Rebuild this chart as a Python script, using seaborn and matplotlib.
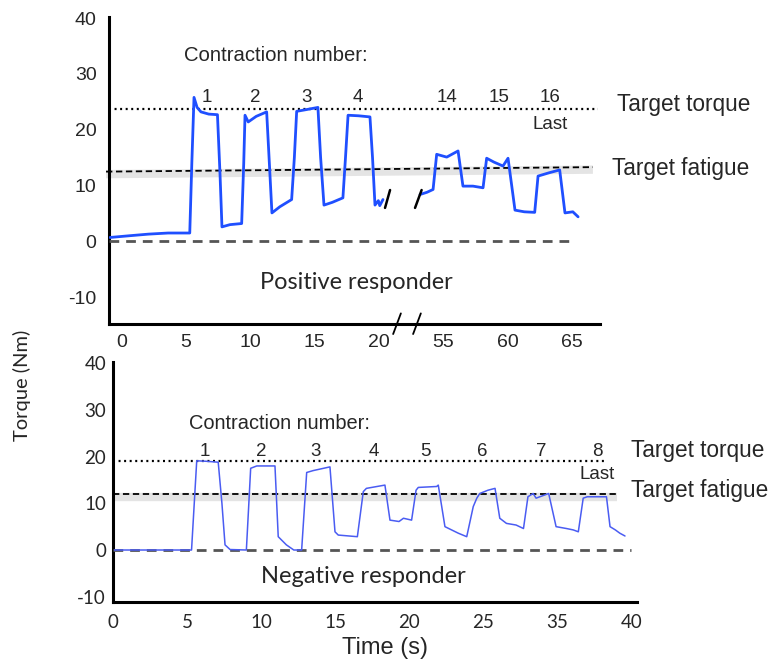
import matplotlib
matplotlib.use("Agg")
import matplotlib.pyplot as plt
import numpy as np
import pandas as pd
import seaborn as sns

# ---------------- data ----------------
# Positive responder (top): time in seconds, torque in Nm
pos_seg1_t = [-0.9, 0.56, 2.09, 3.62, 5.30, 5.46, 5.63, 5.87, 6.17, 6.78, 7.45, 7.65, 7.80,
              8.42, 9.33, 9.49, 9.59, 9.84, 10.46, 11.27, 11.48, 11.68, 12.29, 13.21, 13.42,
              13.60, 14.33, 15.25, 15.46, 15.72, 16.37, 17.19, 17.39, 17.59, 18.41, 19.29,
              19.49, 19.68, 19.94, 20.05, 20.30]
pos_seg1_y = [0.7, 1.0, 1.3, 1.5, 1.5, 14.0, 25.8, 24.0, 23.2, 22.8, 22.7, 12.0, 2.6,
              3.0, 3.2, 14.0, 22.6, 21.4, 22.4, 23.2, 14.0, 5.1, 6.2, 7.5, 15.0,
              23.3, 23.6, 24.0, 15.0, 6.5, 7.0, 7.8, 15.0, 22.6, 22.5, 22.3,
              15.0, 6.5, 7.3, 6.4, 7.5]
pos_seg2_t = [53.18, 53.72, 54.19, 54.47, 55.25, 56.13, 56.51, 57.29, 58.07, 58.35, 58.92,
              59.62, 60.01, 60.55, 61.27, 62.08, 62.34, 63.21, 64.02, 64.43, 65.04, 65.45]
pos_seg2_y = [8.4, 8.8, 9.3, 15.6, 15.1, 16.2, 9.9, 9.9, 9.6, 14.9, 14.2,
              13.5, 14.9, 5.6, 5.3, 5.2, 11.7, 12.3, 12.8, 5.1, 5.3, 4.4]

# Negative responder (bottom)
neg_t = [0.1, 5.3, 5.65, 6.3, 7.1, 7.35, 7.56, 7.9, 9.0, 9.15, 9.29, 9.7, 10.93, 11.15, 11.7,
         12.2, 12.73, 13.07, 13.5, 14.64, 14.98, 15.2, 16.49, 16.89, 17.1, 18.35, 18.69, 19.3,
         19.6, 20.15, 20.45, 20.6, 21.84, 21.95, 22.4, 22.85, 23.3, 23.87, 24.31, 24.55, 24.75,
         25.3, 25.78, 26.1, 26.55, 27.2, 27.7, 28.0, 28.35, 28.55, 29.4, 29.9, 30.6, 31.06,
         31.4, 31.73, 32.0, 33.3, 33.54, 33.9, 34.2, 34.55]
neg_y = [0.0, 0.0, 19.1, 19.0, 18.8, 10.0, 1.1, 0.1, 0.0, 9.0, 17.5, 18.0, 18.0, 2.85, 1.1,
         0.0, 0.0, 16.6, 17.0, 17.8, 3.9, 3.2, 2.85, 12.5, 13.2, 13.9, 6.4, 6.1,
         6.8, 6.4, 12.8, 13.4, 13.6, 13.9, 5.0, 4.3, 3.6, 2.85, 9.3, 11.1, 12.1,
         12.8, 13.2, 6.8, 5.7, 5.35, 4.6, 11.4, 12.1, 11.1, 12.1, 5.0, 4.6, 4.3,
         3.9, 11.1, 11.4, 11.4, 5.0, 4.3, 3.6, 3.0]

top_ticks_t = [0, 5, 10, 15, 20, 55, 60, 65]
top_tick_labels = ["0", "5", "10", "15", "20", "55", "60", "65"]
bottom_ticks = [0, 5, 10, 15, 20, 25, 30, 35]
bottom_tick_labels = ["0", "5", "10", "15", "20", "25", "35", "40"]
y_ticks = [-10, 0, 10, 20, 30, 40]

pos_contraction_labels = ["1", "2", "3", "4", "14", "15", "16"]
pos_contraction_t = [6.61, 10.35, 14.33, 18.31, 55.25, 59.33, 63.31]
neg_contraction_labels = ["1", "2", "3", "4", "5", "6", "7", "8"]
neg_contraction_t = [6.2, 10.0, 13.7, 17.6, 21.1, 24.9, 28.9, 32.7]

pos_target_torque = 23.8
pos_target_fatigue = [12.5, 13.3]
neg_target_torque = 19.1
neg_target_fatigue = 11.9

BREAK_SHIFT = 30  # seconds removed by the broken axis (20 s -> 55 s)


def axis_x(t):
    t = np.asarray(t, dtype=float)
    return np.where(t > 40, t - BREAK_SHIFT, t)


# ---------------- figure ----------------
sns.set_style("white")
plt.rcParams['font.family'] = ['Liberation Sans', 'DejaVu Sans']
plt.rcParams['axes.unicode_minus'] = False
CAL = ["Lato", "DejaVu Sans"]

fig = plt.figure(figsize=(7.71, 6.60), dpi=100)
ax1 = fig.add_axes([109 / 771, 1 - 324 / 660, 491 / 771, 307 / 660])
ax2 = fig.add_axes([113 / 771, 1 - 601.7 / 660, 524 / 771, 239.7 / 660])

TOP_BLUE = "#1f4fff"
BOT_BLUE = "#4a5cf2"

# ---- top panel ----
df1 = pd.DataFrame({"x": axis_x(pos_seg1_t), "torque": pos_seg1_y})
df2 = pd.DataFrame({"x": axis_x(pos_seg2_t), "torque": pos_seg2_y})
sns.lineplot(data=df1, x="x", y="torque", ax=ax1, color=TOP_BLUE, lw=2.0,
             estimator=None, sort=False, zorder=4)
sns.lineplot(data=df2, x="x", y="torque", ax=ax1, color=TOP_BLUE, lw=2.0,
             estimator=None, sort=False, zorder=4)

ax1.set_xlim(-0.97, 37.15)
ax1.set_ylim(-14.8, 40.2)
# reference lines
ax1.plot([-0.97, 37.0], [pos_target_torque] * 2, color="black", lw=1.6,
         ls=(0, (0.9, 1.6)), zorder=3)
ax1.plot([-1.2, 36.6], [pos_target_fatigue[0] - 0.45, pos_target_fatigue[1] - 0.45],
         color="#cfcfcf", lw=6, alpha=0.55, solid_capstyle="butt", zorder=2, clip_on=False)
ax1.plot([-1.2, 36.6], pos_target_fatigue, color="black", lw=1.3,
         ls=(0, (3.5, 2.0)), zorder=3, clip_on=False)
ax1.plot([-0.97, 35.2], [0, 0], color="#555555", lw=2.0, ls=(0, (3.5, 2.5)), zorder=3)

# break marks on the trace
for x0, x1 in [(20.46, 20.85), (22.79, 23.3)]:
    ax1.plot([x0, x1], [6.0, 9.2], color="black", lw=1.8, zorder=5)
# break marks on the axis
for xc in [21.39, 22.94]:
    ax1.plot([xc - 0.3, xc + 0.3], [-16.6, -12.9], color="black", lw=1.3,
             clip_on=False, zorder=6)

ax1.text(12.0, 33.3, "Contraction number:", fontsize=14.6, ha="center", va="center")
for lab, t in zip(pos_contraction_labels, pos_contraction_t):
    ax1.text(float(axis_x(t)), 25.7, lab, fontsize=13.5, ha="center", va="center")
ax1.text(33.31, 20.9, "Last", fontsize=13.5, ha="center", va="center")
ax1.text(38.47, 24.6, "Target torque", fontsize=16.3, ha="left", va="center", clip_on=False)
ax1.text(38.08, 13.0, "Target fatigue", fontsize=16.3, ha="left", va="center", clip_on=False)
ax1.text(18.2, -7.4, "Positive responder", fontsize=16.9, ha="center", va="center",
         family=CAL)

ax1.set_xticks(axis_x(top_ticks_t))
ax1.set_xticklabels(top_tick_labels)
ax1.set_yticks(y_ticks)
ax1.set_xlabel("")
ax1.set_ylabel("")

# ---- bottom panel ----
df3 = pd.DataFrame({"x": neg_t, "torque": neg_y})
sns.lineplot(data=df3, x="x", y="torque", ax=ax2, color=BOT_BLUE, lw=1.1,
             estimator=None, sort=False, zorder=4)
ax2.set_xlim(0, 35.36)
ax2.set_ylim(-11.07, 40.26)
ax2.plot([0, 33.2], [neg_target_torque] * 2, color="black", lw=1.6,
         ls=(0, (0.9, 1.6)), zorder=3)
ax2.plot([0, 34.0], [neg_target_fatigue - 0.5] * 2, color="#cfcfcf", lw=6, alpha=0.55,
         solid_capstyle="butt", zorder=2)
ax2.plot([0, 34.0], [neg_target_fatigue] * 2, color="black", lw=1.3,
         ls=(0, (3.5, 2.0)), zorder=3)
ax2.plot([0, 34.95], [0, 0], color="#555555", lw=2.0, ls=(0, (3.5, 2.5)), zorder=3)

ax2.text(11.2, 27.0, "Contraction number:", fontsize=14.4, ha="center", va="center")
for lab, t in zip(neg_contraction_labels, neg_contraction_t):
    ax2.text(t, 21.2, lab, fontsize=13.5, ha="center", va="center")
ax2.text(32.7, 16.1, "Last", fontsize=13.5, ha="center", va="center")
ax2.text(34.95, 21.3, "Target torque", fontsize=16.3, ha="left", va="center", clip_on=False)
ax2.text(34.95, 12.8, "Target fatigue", fontsize=16.3, ha="left", va="center", clip_on=False)
ax2.text(16.9, -5.6, "Negative responder", fontsize=17, ha="center", va="center",
         family=CAL)

ax2.set_xticks(bottom_ticks)
ax2.set_xticklabels(bottom_tick_labels)
ax2.set_yticks(y_ticks)
ax2.set_xlabel("")
ax2.set_ylabel("")

# ---- styling ----
for ax in (ax1, ax2):
    sns.despine(ax=ax)
    for s in ("left", "bottom"):
        ax.spines[s].set_color("black")
        ax.spines[s].set_linewidth(2.2)
    ax.tick_params(axis="both", direction="in", length=6, width=1.6, color="black")
    ax.grid(False)
    ax.set_facecolor("none")

ax1.tick_params(axis="both", labelsize=14)
ax1.tick_params(axis="y", pad=9)
ax1.tick_params(axis="x", pad=7)
ax2.tick_params(axis="both", labelsize=13.5)
ax2.tick_params(axis="y", pad=5)
ax2.tick_params(axis="x", pad=9)
for lab in ax2.get_xticklabels() + ax2.get_yticklabels():
    lab.set_family(CAL)
# thick zero tick on the bottom panel
zt = ax2.yaxis.get_major_ticks()[1].tick1line
zt.set_markeredgewidth(4.5)
zt.set_markersize(8)

fig.text(22 / 771, 1 - 385 / 660, "Torque (Nm)", rotation=90, fontsize=14.5,
         ha="center", va="center", family=CAL)
fig.text(385 / 771, 1 - 648 / 660, "Time (s)", fontsize=17, ha="center", va="center")

fig.savefig("out.png", dpi=100, facecolor="white")
